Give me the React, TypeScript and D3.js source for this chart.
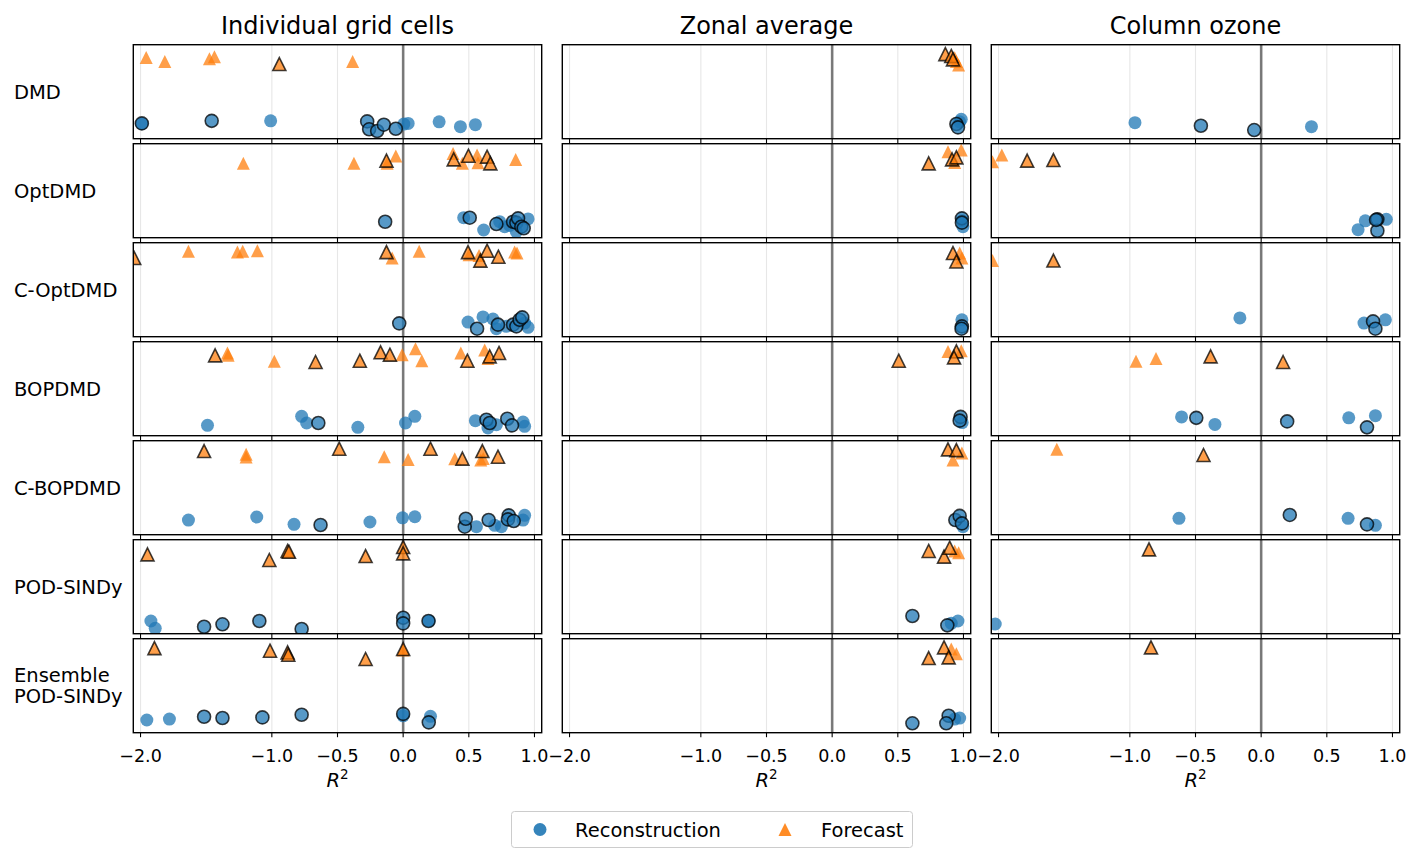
import React from 'react';
import * as d3 from 'd3';

// [method, R², vertical position inside panel (0 = top, 1 = bottom), edged]
type Pt = [string, number, number, number];

const METHODS = ['DMD', 'OptDMD', 'C-OptDMD', 'BOPDMD', 'C-BOPDMD', 'POD-SINDy', 'Ensemble POD-SINDy'];
const ROW_LABELS = [['DMD'], ['OptDMD'], ['C-OptDMD'], ['BOPDMD'], ['C-BOPDMD'], ['POD-SINDy'], ['Ensemble', 'POD-SINDy']];
const PANEL_TITLES = ['Individual grid cells', 'Zonal average', 'Column ozone'];
const X_TICKS = [-2, -1, -0.5, 0, 0.5, 1];
const LEGEND = ['Reconstruction', 'Forecast'];

const gridRecon: Pt[] = [
  ['DMD', -1.99, 0.84, 0], ['DMD', -1.99, 0.837, 1], ['DMD', -1.458, 0.81, 1], ['DMD', -1.009, 0.81, 0],
  ['DMD', -0.274, 0.816, 1], ['DMD', -0.259, 0.9, 1], ['DMD', -0.198, 0.918, 1], ['DMD', -0.147, 0.851, 1],
  ['DMD', -0.056, 0.894, 1], ['DMD', 0.005, 0.844, 0], ['DMD', 0.038, 0.837, 0], ['DMD', 0.274, 0.82, 0],
  ['DMD', 0.436, 0.872, 0], ['DMD', 0.55, 0.851, 0],
  ['OptDMD', -0.137, 0.83, 1], ['OptDMD', 0.461, 0.787, 0], ['OptDMD', 0.507, 0.787, 1], ['OptDMD', 0.613, 0.918, 0],
  ['OptDMD', 0.71, 0.855, 1], ['OptDMD', 0.735, 0.83, 0], ['OptDMD', 0.773, 0.883, 0], ['OptDMD', 0.811, 0.87, 0],
  ['OptDMD', 0.837, 0.83, 1], ['OptDMD', 0.862, 0.84, 1], ['OptDMD', 0.875, 0.794, 1], ['OptDMD', 0.9, 0.883, 1],
  ['OptDMD', 0.918, 0.9, 1], ['OptDMD', 0.951, 0.8, 0], ['OptDMD', 0.862, 0.936, 0],
  ['C-OptDMD', -0.03, 0.858, 1], ['C-OptDMD', 0.494, 0.844, 0], ['C-OptDMD', 0.563, 0.915, 1], ['C-OptDMD', 0.608, 0.79, 0],
  ['C-OptDMD', 0.684, 0.812, 0], ['C-OptDMD', 0.722, 0.872, 1], ['C-OptDMD', 0.71, 0.915, 0], ['C-OptDMD', 0.786, 0.89, 0],
  ['C-OptDMD', 0.837, 0.872, 1], ['C-OptDMD', 0.862, 0.89, 1], ['C-OptDMD', 0.887, 0.82, 1], ['C-OptDMD', 0.907, 0.794, 1],
  ['C-OptDMD', 0.951, 0.9, 0], ['C-OptDMD', 0.925, 0.855, 0],
  ['BOPDMD', -1.49, 0.89, 0], ['BOPDMD', -0.773, 0.794, 0], ['BOPDMD', -0.735, 0.865, 0], ['BOPDMD', -0.646, 0.865, 1],
  ['BOPDMD', -0.345, 0.911, 0], ['BOPDMD', 0.018, 0.865, 0], ['BOPDMD', 0.089, 0.794, 0], ['BOPDMD', 0.55, 0.84, 0],
  ['BOPDMD', 0.646, 0.918, 0], ['BOPDMD', 0.71, 0.883, 0], ['BOPDMD', 0.913, 0.855, 0], ['BOPDMD', 0.925, 0.9, 0],
  ['BOPDMD', 0.634, 0.83, 1], ['BOPDMD', 0.659, 0.865, 1], ['BOPDMD', 0.793, 0.82, 1], ['BOPDMD', 0.829, 0.89, 1],
  ['C-BOPDMD', -1.635, 0.844, 0], ['C-BOPDMD', -1.115, 0.812, 0], ['C-BOPDMD', -0.831, 0.89, 0], ['C-BOPDMD', -0.629, 0.897, 1],
  ['C-BOPDMD', -0.253, 0.865, 0], ['C-BOPDMD', -0.005, 0.82, 0], ['C-BOPDMD', 0.089, 0.809, 0], ['C-BOPDMD', 0.558, 0.915, 0],
  ['C-BOPDMD', 0.697, 0.9, 0], ['C-BOPDMD', 0.748, 0.915, 0], ['C-BOPDMD', 0.925, 0.794, 0], ['C-BOPDMD', 0.913, 0.844, 0],
  ['C-BOPDMD', 0.469, 0.915, 1], ['C-BOPDMD', 0.477, 0.83, 1], ['C-BOPDMD', 0.651, 0.844, 1], ['C-BOPDMD', 0.804, 0.794, 1],
  ['C-BOPDMD', 0.798, 0.837, 1], ['C-BOPDMD', 0.842, 0.855, 1],
  ['POD-SINDy', -1.921, 0.865, 0], ['POD-SINDy', -1.888, 0.943, 0], ['POD-SINDy', 0.198, 0.865, 0],
  ['POD-SINDy', -1.516, 0.926, 1], ['POD-SINDy', -1.376, 0.9, 1], ['POD-SINDy', -1.095, 0.865, 1], ['POD-SINDy', -0.773, 0.95, 1],
  ['POD-SINDy', 0.0, 0.83, 1], ['POD-SINDy', 0.0, 0.89, 1], ['POD-SINDy', 0.193, 0.865, 1],
  ['Ensemble POD-SINDy', -1.952, 0.865, 0], ['Ensemble POD-SINDy', -1.78, 0.855, 0], ['Ensemble POD-SINDy', 0.0, 0.82, 0],
  ['Ensemble POD-SINDy', 0.208, 0.826, 0], ['Ensemble POD-SINDy', -1.516, 0.83, 1], ['Ensemble POD-SINDy', -1.376, 0.844, 1],
  ['Ensemble POD-SINDy', -1.072, 0.837, 1], ['Ensemble POD-SINDy', -0.773, 0.809, 1], ['Ensemble POD-SINDy', 0.0, 0.8, 1],
  ['Ensemble POD-SINDy', 0.195, 0.89, 1],
];

const gridForecast: Pt[] = [
  ['DMD', -1.957, 0.135, 0], ['DMD', -1.815, 0.18, 0], ['DMD', -1.475, 0.15, 0], ['DMD', -1.437, 0.128, 0],
  ['DMD', -0.943, 0.206, 1], ['DMD', -0.385, 0.18, 0],
  ['OptDMD', -1.217, 0.209, 0], ['OptDMD', -0.375, 0.209, 0], ['OptDMD', -0.122, 0.209, 0], ['OptDMD', -0.056, 0.131, 0],
  ['OptDMD', 0.38, 0.103, 0], ['OptDMD', 0.451, 0.209, 0], ['OptDMD', 0.563, 0.12, 0], ['OptDMD', 0.57, 0.202, 0],
  ['OptDMD', 0.857, 0.167, 0], ['OptDMD', -0.127, 0.18, 1], ['OptDMD', 0.385, 0.167, 1], ['OptDMD', 0.497, 0.128, 1],
  ['OptDMD', 0.639, 0.138, 1], ['OptDMD', 0.664, 0.209, 1],
  ['C-OptDMD', -1.635, 0.092, 0], ['C-OptDMD', -1.262, 0.1, 0], ['C-OptDMD', -1.222, 0.092, 0], ['C-OptDMD', -1.11, 0.085, 0],
  ['C-OptDMD', -0.084, 0.163, 0], ['C-OptDMD', 0.122, 0.092, 0], ['C-OptDMD', 0.502, 0.128, 0], ['C-OptDMD', 0.578, 0.135, 0],
  ['C-OptDMD', 0.849, 0.1, 0], ['C-OptDMD', 0.867, 0.11, 0], ['C-OptDMD', -2.048, 0.163, 1], ['C-OptDMD', -0.127, 0.1, 1],
  ['C-OptDMD', 0.494, 0.1, 1], ['C-OptDMD', 0.588, 0.191, 1], ['C-OptDMD', 0.639, 0.085, 1], ['C-OptDMD', 0.725, 0.149, 1],
  ['BOPDMD', -1.338, 0.12, 0], ['BOPDMD', -1.333, 0.145, 0], ['BOPDMD', -0.981, 0.209, 0], ['BOPDMD', -0.008, 0.138, 0],
  ['BOPDMD', 0.094, 0.074, 0], ['BOPDMD', 0.142, 0.202, 0], ['BOPDMD', 0.439, 0.12, 0], ['BOPDMD', 0.621, 0.089, 0],
  ['BOPDMD', 0.646, 0.18, 0], ['BOPDMD', -1.432, 0.145, 1], ['BOPDMD', -0.667, 0.216, 1], ['BOPDMD', -0.33, 0.202, 1],
  ['BOPDMD', -0.172, 0.113, 1], ['BOPDMD', -0.101, 0.138, 1], ['BOPDMD', 0.489, 0.202, 1], ['BOPDMD', 0.659, 0.156, 1],
  ['BOPDMD', 0.73, 0.12, 1],
  ['C-BOPDMD', -1.196, 0.145, 0], ['C-BOPDMD', -1.196, 0.174, 0], ['C-BOPDMD', -0.144, 0.17, 0], ['C-BOPDMD', 0.038, 0.199, 0],
  ['C-BOPDMD', 0.393, 0.191, 0], ['C-BOPDMD', 0.591, 0.206, 0], ['C-BOPDMD', 0.61, 0.19, 0], ['C-BOPDMD', -1.516, 0.11, 1],
  ['C-BOPDMD', -0.487, 0.085, 1], ['C-BOPDMD', 0.208, 0.085, 1], ['C-BOPDMD', 0.451, 0.191, 1], ['C-BOPDMD', 0.603, 0.11, 1],
  ['C-BOPDMD', 0.722, 0.17, 1],
  ['POD-SINDy', -1.947, 0.156, 1], ['POD-SINDy', -1.019, 0.216, 1], ['POD-SINDy', -0.88, 0.12, 1], ['POD-SINDy', -0.87, 0.128, 1],
  ['POD-SINDy', -0.286, 0.174, 1], ['POD-SINDy', 0.0, 0.078, 1], ['POD-SINDy', 0.0, 0.145, 1],
  ['Ensemble POD-SINDy', 0.0, 0.12, 0], ['Ensemble POD-SINDy', -1.894, 0.1, 1], ['Ensemble POD-SINDy', -1.014, 0.128, 1],
  ['Ensemble POD-SINDy', -0.88, 0.145, 1], ['Ensemble POD-SINDy', -0.875, 0.17, 1], ['Ensemble POD-SINDy', -0.286, 0.216, 1],
  ['Ensemble POD-SINDy', 0.0, 0.11, 1],
];

const zonalRecon: Pt[] = [
  ['DMD', 0.971, 0.82, 0], ['DMD', 0.983, 0.794, 0], ['DMD', 0.946, 0.844, 1], ['DMD', 0.958, 0.88, 1],
  ['OptDMD', 0.996, 0.883, 0], ['OptDMD', 0.99, 0.82, 0], ['OptDMD', 0.988, 0.794, 1], ['OptDMD', 0.988, 0.84, 1],
  ['C-OptDMD', 0.988, 0.82, 0], ['C-OptDMD', 0.988, 0.89, 1], ['C-OptDMD', 0.985, 0.915, 1],
  ['BOPDMD', 0.99, 0.86, 0], ['BOPDMD', 0.978, 0.8, 1], ['BOPDMD', 0.971, 0.84, 1],
  ['C-BOPDMD', 0.996, 0.915, 0], ['C-BOPDMD', 0.938, 0.844, 1], ['C-BOPDMD', 0.971, 0.8, 1], ['C-BOPDMD', 0.988, 0.88, 1],
  ['POD-SINDy', 0.907, 0.89, 0], ['POD-SINDy', 0.958, 0.865, 0], ['POD-SINDy', 0.611, 0.812, 1], ['POD-SINDy', 0.877, 0.911, 1],
  ['Ensemble POD-SINDy', 0.933, 0.855, 0], ['Ensemble POD-SINDy', 0.971, 0.844, 0], ['Ensemble POD-SINDy', 0.611, 0.9, 1],
  ['Ensemble POD-SINDy', 0.887, 0.82, 1], ['Ensemble POD-SINDy', 0.869, 0.9, 1],
];

const zonalForecast: Pt[] = [
  ['DMD', 0.933, 0.14, 0], ['DMD', 0.946, 0.18, 0], ['DMD', 0.963, 0.216, 0], ['DMD', 0.862, 0.1, 1],
  ['DMD', 0.907, 0.12, 1], ['DMD', 0.92, 0.156, 1],
  ['OptDMD', 0.882, 0.085, 0], ['OptDMD', 0.933, 0.2, 0], ['OptDMD', 0.983, 0.067, 0], ['OptDMD', 0.735, 0.209, 1],
  ['OptDMD', 0.913, 0.167, 1], ['OptDMD', 0.946, 0.145, 1],
  ['C-OptDMD', 0.971, 0.11, 0], ['C-OptDMD', 0.988, 0.163, 0], ['C-OptDMD', 0.92, 0.11, 1], ['C-OptDMD', 0.946, 0.2, 1],
  ['BOPDMD', 0.882, 0.103, 0], ['BOPDMD', 0.983, 0.096, 0], ['BOPDMD', 0.507, 0.202, 1], ['BOPDMD', 0.946, 0.103, 1],
  ['BOPDMD', 0.928, 0.167, 1],
  ['C-BOPDMD', 0.92, 0.206, 0], ['C-BOPDMD', 0.988, 0.13, 0], ['C-BOPDMD', 0.882, 0.092, 1], ['C-BOPDMD', 0.946, 0.1, 1],
  ['POD-SINDy', 0.933, 0.12, 0], ['POD-SINDy', 0.963, 0.138, 0], ['POD-SINDy', 0.735, 0.12, 1], ['POD-SINDy', 0.852, 0.18, 1],
  ['POD-SINDy', 0.895, 0.085, 1],
  ['Ensemble POD-SINDy', 0.907, 0.11, 0], ['Ensemble POD-SINDy', 0.946, 0.16, 0], ['Ensemble POD-SINDy', 0.735, 0.206, 1],
  ['Ensemble POD-SINDy', 0.852, 0.092, 1], ['Ensemble POD-SINDy', 0.887, 0.199, 1],
];

const ozoneRecon: Pt[] = [
  ['DMD', -0.961, 0.83, 0], ['DMD', 0.383, 0.872, 0], ['DMD', -0.459, 0.862, 1], ['DMD', -0.053, 0.908, 1],
  ['OptDMD', 0.738, 0.915, 0], ['OptDMD', 0.793, 0.82, 0], ['OptDMD', 0.953, 0.805, 0], ['OptDMD', 0.885, 0.805, 1],
  ['OptDMD', 0.885, 0.926, 1], ['OptDMD', 0.875, 0.81, 1],
  ['C-OptDMD', -0.162, 0.8, 0], ['C-OptDMD', 0.783, 0.855, 0], ['C-OptDMD', 0.946, 0.82, 0], ['C-OptDMD', 0.852, 0.837, 1],
  ['C-OptDMD', 0.87, 0.915, 1],
  ['BOPDMD', -0.606, 0.8, 0], ['BOPDMD', -0.352, 0.88, 0], ['BOPDMD', 0.667, 0.81, 0], ['BOPDMD', 0.87, 0.787, 0],
  ['BOPDMD', -0.494, 0.81, 1], ['BOPDMD', 0.198, 0.848, 1], ['BOPDMD', 0.806, 0.911, 1],
  ['C-BOPDMD', -0.626, 0.826, 0], ['C-BOPDMD', 0.662, 0.826, 0], ['C-BOPDMD', 0.87, 0.9, 0], ['C-BOPDMD', 0.218, 0.79, 1],
  ['C-BOPDMD', 0.806, 0.89, 1],
  ['POD-SINDy', -2.025, 0.897, 0],
];

const ozoneForecast: Pt[] = [
  ['OptDMD', -2.046, 0.191, 0], ['OptDMD', -1.975, 0.12, 0], ['OptDMD', -1.782, 0.18, 1], ['OptDMD', -1.582, 0.174, 1],
  ['C-OptDMD', -2.046, 0.19, 0], ['C-OptDMD', -1.582, 0.19, 1],
  ['BOPDMD', -0.953, 0.209, 0], ['BOPDMD', -0.801, 0.18, 0], ['BOPDMD', -0.385, 0.156, 1], ['BOPDMD', 0.167, 0.216, 1],
  ['C-BOPDMD', -1.556, 0.092, 0], ['C-BOPDMD', -0.439, 0.152, 1],
  ['POD-SINDy', -0.854, 0.103, 1],
  ['Ensemble POD-SINDy', -0.839, 0.092, 1],
];

const COLUMNS = [
  { recon: gridRecon, forecast: gridForecast },
  { recon: zonalRecon, forecast: zonalForecast },
  { recon: ozoneRecon, forecast: ozoneForecast },
];

const BLUE = '#1f77b4';
const ORANGE = '#ff7f0e';
const FONT = 'DejaVu Sans, sans-serif';

const W = 1424;
const H = 863;
const PANEL_LEFT = 133.3;
const PANEL_W = 408.4;
const COL_GAP = 20.6;
const PANEL_TOP = 44.7;
const PANEL_H = 94;
const ROW_GAP = 5;
const MARK = 6.5;
const LABEL_SIZE = 19.5;

const x = d3.scaleLinear().domain([-2.055, 1.055]).range([0, PANEL_W]);
const y = d3.scaleLinear().domain([0, 1]).range([0, PANEL_H]);
const fmt = d3.format('.1f');

const tri = (a: number) => `M0,${-a}L${a},${a}L${-a},${a}Z`;

function Marker({ p, kind }: { p: Pt; kind: 'recon' | 'forecast' }) {
  const cx = x(p[1]);
  const cy = y(p[2]);
  const common = {
    fill: kind === 'recon' ? BLUE : ORANGE,
    fillOpacity: 0.75,
    stroke: p[3] ? '#000' : 'none',
    strokeOpacity: 0.75,
    strokeWidth: 1.6,
  };
  return kind === 'recon'
    ? <circle cx={cx} cy={cy} r={MARK} {...common} />
    : <path d={tri(MARK)} transform={`translate(${cx},${cy})`} {...common} />;
}

function Panel({ col, row }: { col: number; row: number }) {
  const method = METHODS[row];
  const left = PANEL_LEFT + col * (PANEL_W + COL_GAP);
  const top = PANEL_TOP + row * (PANEL_H + ROW_GAP);
  const data = COLUMNS[col];
  const byEdge = (pts: Pt[]) =>
    pts.filter(p => p[0] === method).sort((a, b) => a[3] - b[3]);
  const clipId = `clip-${col}-${row}`;
  const last = row === METHODS.length - 1;
  return (
    <g transform={`translate(${left},${top})`}>
      <clipPath id={clipId}><rect width={PANEL_W} height={PANEL_H} /></clipPath>
      {X_TICKS.map(t => (
        <line key={t} x1={x(t)} x2={x(t)} y1={0} y2={PANEL_H} stroke="#b0b0b0" strokeOpacity={0.3} strokeWidth={1.1} />
      ))}
      <line x1={x(0)} x2={x(0)} y1={0} y2={PANEL_H} stroke="#000" strokeOpacity={0.5} strokeWidth={2.6} />
      <g clipPath={`url(#${clipId})`}>
        {byEdge(data.recon).map((p, i) => <Marker key={`r${i}`} p={p} kind="recon" />)}
        {byEdge(data.forecast).map((p, i) => <Marker key={`f${i}`} p={p} kind="forecast" />)}
      </g>
      <rect width={PANEL_W} height={PANEL_H} fill="none" stroke="#000" strokeWidth={1.4} />
      {X_TICKS.map(t => (
        <line key={`t${t}`} x1={x(t)} x2={x(t)} y1={PANEL_H} y2={PANEL_H + 4.5} stroke="#000" strokeWidth={1.1} />
      ))}
      {last && X_TICKS.map(t => (
        <text key={`l${t}`} x={x(t)} y={PANEL_H + 29} textAnchor="middle" fontSize={17.5} fontFamily={FONT}>{fmt(t)}</text>
      ))}
      {last && (
        <text x={PANEL_W / 2} y={PANEL_H + 54} textAnchor="middle" fontSize={LABEL_SIZE} fontFamily={FONT}>
          <tspan fontStyle="italic">R</tspan>
          <tspan dy={-8} fontSize={13.5}>2</tspan>
        </text>
      )}
      {row === 0 && (
        <text x={PANEL_W / 2} y={-11} textAnchor="middle" fontSize={24} fontFamily={FONT}>{PANEL_TITLES[col]}</text>
      )}
    </g>
  );
}

export default function App() {
  return (
    <svg width={W} height={H} style={{ position: 'absolute', left: 0, top: 0, background: '#fff' }}>
      <rect width={W} height={H} fill="#fff" />
      {METHODS.map((m, row) => (
        <g key={m}>
          {ROW_LABELS[row].map((line, i, arr) => (
            <text key={line} x={14} y={PANEL_TOP + row * (PANEL_H + ROW_GAP) + PANEL_H / 2 + 7 + (i - (arr.length - 1) / 2) * 21.5}
              fontSize={LABEL_SIZE} fontFamily={FONT}>{line}</text>
          ))}
          {[0, 1, 2].map(col => <Panel key={col} col={col} row={row} />)}
        </g>
      ))}
      <g transform="translate(511,811)">
        <rect x={0.5} y={0.5} width={401} height={36} rx={3} fill="#fff" stroke="#ccc" strokeWidth={1} />
        <circle cx={29} cy={18.5} r={MARK} fill={BLUE} fillOpacity={0.9} />
        <text x={64} y={25.5} fontSize={LABEL_SIZE} fontFamily={FONT}>{LEGEND[0]}</text>
        <path d={tri(MARK)} transform="translate(274,18.5)" fill={ORANGE} fillOpacity={0.9} />
        <text x={310} y={25.5} fontSize={LABEL_SIZE} fontFamily={FONT}>{LEGEND[1]}</text>
      </g>
    </svg>
  );
}
